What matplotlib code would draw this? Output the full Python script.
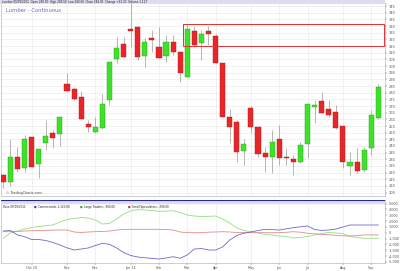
import numpy as np
import matplotlib
matplotlib.use('Agg')
import matplotlib.pyplot as plt
from matplotlib.patches import Rectangle

# weekly candles, Sep 2010 .. Sep 2011 (Lumber - Continuous)
opens = [218.3, 212.8, 232.0, 223.3, 246.5, 226.3, 242.0, 249.5, 248.8, 286.5,
         282.5, 277.0, 256.5, 250.3, 253.3, 274.5, 305.0, 316.3, 327.4, 329.0,
         307.7, 320.8, 314.5, 307.7, 317.8, 310.7, 291.5, 326.3, 317.0, 326.5,
         322.5, 302.0, 262.0, 258.2, 236.5, 268.3, 254.5, 234.5, 232.0, 245.3,
         231.0, 230.0, 227.8, 241.3, 269.5, 273.8, 267.8, 265.8, 255.0, 225.0,
         227.8, 222.0, 238.3, 260.8]
highs = [219.0, 245.3, 239.5, 248.3, 247.0, 238.0, 259.5, 252.0, 261.7, 294.5,
         284.5, 281.5, 259.5, 262.0, 279.0, 303.0, 321.5, 321.5, 347.0, 329.2,
         320.8, 327.0, 329.5, 323.3, 323.3, 310.9, 330.8, 330.0, 327.0, 330.0,
         324.0, 302.0, 267.5, 259.5, 245.0, 270.0, 254.6, 239.5, 252.0, 255.8,
         238.5, 233.3, 243.2, 271.5, 274.5, 280.7, 274.5, 270.8, 255.1, 235.3,
         238.3, 239.0, 267.0, 286.5]
lows = [208.5, 210.2, 220.7, 220.7, 224.2, 215.8, 237.0, 238.3, 240.0, 280.7,
        274.5, 259.9, 250.7, 250.1, 253.1, 270.8, 302.0, 306.4, 314.3, 304.5,
        299.5, 310.7, 306.0, 303.2, 308.3, 287.8, 291.4, 314.5, 304.5, 315.8,
        301.9, 261.4, 242.0, 228.2, 225.8, 249.5, 232.0, 220.7, 219.5, 225.8,
        225.8, 218.3, 227.6, 230.8, 257.0, 264.9, 261.5, 253.1, 223.3, 218.3,
        219.5, 220.7, 233.3, 260.6]
closes = [212.8, 232.0, 222.5, 245.3, 224.5, 237.8, 247.7, 246.2, 261.5, 281.5,
          275.3, 260.0, 254.5, 254.0, 271.3, 302.8, 313.3, 306.5, 326.6, 307.0,
          317.8, 319.5, 306.2, 317.8, 310.7, 294.5, 327.5, 315.8, 324.0, 324.0,
          302.0, 261.5, 254.5, 235.3, 241.5, 254.0, 234.0, 231.5, 243.2, 231.2,
          230.6, 227.8, 240.8, 271.5, 270.8, 265.0, 263.3, 253.3, 228.2, 228.2,
          221.2, 237.0, 263.3, 284.0]

# COT net positions (contracts)
commercials = [290, 380, -390, -690, -1170, -1170, -1340, -1680, -2110, -2590,
               -2970, -2800, -2620, -2200, -1820, -1990, -2620, -3400, -3910, -4170,
               -4300, -4410, -4510, -4340, -4120, -4390, -3820, -2800, -2710, -2970,
               -2970, -2450, -1250, -480, -90, 120, 380, 580, 530, 460,
               670, 860, 1010, 1150, 550, 380, 460, 630, 980, 1320,
               1320, 1320, 1320, 1320]
large_traders = [-910, -50, 290, 630, 890, 1060, 1230, 1320, 1840, 2260,
                 2440, 2610, 2520, 2180, 1490, 1580, 2350, 3210, 3720, 3980,
                 3890, 3810, 3640, 3720, 3770, 3460, 3040, 2860, 2780, 2810,
                 2860, 2350, 1660, 810, 380, 170, -50, -310, -390, -570,
                 -650, -910, -820, -650, -390, -140, 30, -50, -140, -650,
                 -820, -960, -960, -960]
small_specs = [170, 170, 210, 290, 340, 380, 410, 430, 460, 460,
               120, 30, 120, 170, 210, 290, 460, 550, 580, 580,
               580, 580, 580, 550, 460, 120, 0, 0, 0, 90,
               120, 170, 120, 30, 0, 0, 0, 0, 0, 0,
               70, 170, 90, -100, -190, -270, -360, -450, -530, -570,
               -480, -390, -390, -390]

month_idx = [4, 9, 13, 18, 22, 26, 30, 35, 39, 43, 48, 52]
month_labels = ['Oct 10', 'Nov', 'Dec', 'Jan 11', 'Feb', 'Mar', 'Apr', 'May',
                'Jun', 'Jul', 'Aug', 'Sep']

price_ticks = np.arange(205, 350, 5)
cot_ticks = np.arange(-5000, 6000, 1000)

GREEN = '#3fe22a'
RED = '#e8262a'
GRID = '#e6e6e6'

fig = plt.figure(figsize=(4, 2.71), dpi=100)
fig.patch.set_facecolor('white')

# ---- price panel
ax = fig.add_axes([0.0025, 0.2768, 0.96, 0.7103])
x = np.arange(len(opens))
o = np.array(opens); c = np.array(closes)
up = c >= o
cols = np.where(up, GREEN, RED)
edges = np.where(up, '#2aa01c', '#b01818')
ax.vlines(x, lows, highs, color='#9a9a9a', lw=0.5, zorder=2)
ax.bar(x, np.where(np.abs(c - o) < 0.6, 0.6, c - o), bottom=o, width=0.72,
       color=cols, edgecolor=edges, linewidth=0.3, zorder=3)
ax.add_patch(Rectangle((25.4, 315.0), 28.45, 16.5, fill=False,
                       edgecolor='#e03030', lw=0.7, zorder=4))
ax.set_xlim(-0.33, 53.95)
ax.set_ylim(202.5, 346.9)
ax.set_yticks(price_ticks)
ax.set_yticklabels([str(v) for v in price_ticks])
ax.set_xticks(month_idx)
ax.set_xticklabels([])
ax.yaxis.tick_right()
ax.tick_params(axis='y', labelsize=2.6, length=1.2, width=0.3, pad=1.5,
               colors='#555555')
ax.tick_params(axis='x', length=0)
ax.grid(True, color=GRID, lw=0.4, zorder=0)
ax.set_axisbelow(True)
for s in ax.spines.values():
    s.set_color('#aaaaaa')
    s.set_linewidth(0.4)
ax.text(0.012, 0.963, 'Lumber - Continuous', transform=ax.transAxes,
        fontsize=3.8, color='#6a6ab8', va='center')
ax.text(0.012, 0.006, '\u00a9 TradingCharts.com', transform=ax.transAxes,
        fontsize=2.4, color='#444444', va='bottom')

# top info bar
fig.patches.append(Rectangle((0, 1 - 3.5 / 271), 0.9625, 3.5 / 271,
                             transform=fig.transFigure, facecolor='#dcdcf2',
                             edgecolor='none'))
fig.text(0.005, 1 - 1.9 / 271,
         'Lumber 09/09/2011  Open 260.80  High 286.50  Low 260.60  Close 284.00  Change +23.20  Volume 1,127',
         fontsize=2.0, va='center', color='#222222')

# ---- COT panel
ax2 = fig.add_axes([0.0025, 0.0295, 0.96, 0.2325])
ax2.plot(x, large_traders, color='#90e080', lw=0.6, zorder=3)
ax2.plot(x, small_specs, color='#e08a8a', lw=0.6, zorder=3)
ax2.plot(x, commercials, color='#6a6acc', lw=0.6, zorder=3)
ax2.set_xlim(-0.33, 53.95)
ax2.set_ylim(-5200, 5610)
ax2.axhspan(5040, 5610, color='#dcdcf2', zorder=4)
ax2.axhline(5560, color='#2a2a80', lw=0.8, zorder=5)
ax2.set_yticks(cot_ticks)
ax2.set_yticklabels(['{:,}'.format(v) for v in cot_ticks])
ax2.yaxis.tick_right()
ax2.tick_params(axis='y', labelsize=2.4, length=1.2, width=0.3, pad=1.5,
                colors='#555555')
ax2.set_xticks(month_idx)
ax2.set_xticklabels(month_labels)
ax2.tick_params(axis='x', labelsize=2.4, length=1.2, width=0.3, pad=1.0,
                colors='#555555')
ax2.grid(True, axis='x', color=GRID, lw=0.4, zorder=0)
for s in ax2.spines.values():
    s.set_color('#aaaaaa')
    s.set_linewidth(0.4)
ax2.text(0.006, 0.885, 'Date 09/09/2011', transform=ax2.transAxes,
         fontsize=2.0, va='center', color='#222222', zorder=6)
legend_items = [(0.085, '#3a3a9a', 'Commercials: 1,320.00'),
                (0.205, '#3aa030', 'Large Traders: -960.00'),
                (0.330, '#c03030', 'Small Speculators: -390.00')]
for lx, lc, lt in legend_items:
    ax2.text(lx, 0.885, '\u25a0', transform=ax2.transAxes, fontsize=2.0,
             va='center', color=lc, zorder=6)
    ax2.text(lx + 0.012, 0.885, lt, transform=ax2.transAxes, fontsize=2.0,
             va='center', color='#222222', zorder=6)

fig.savefig('out.png', dpi=100)
